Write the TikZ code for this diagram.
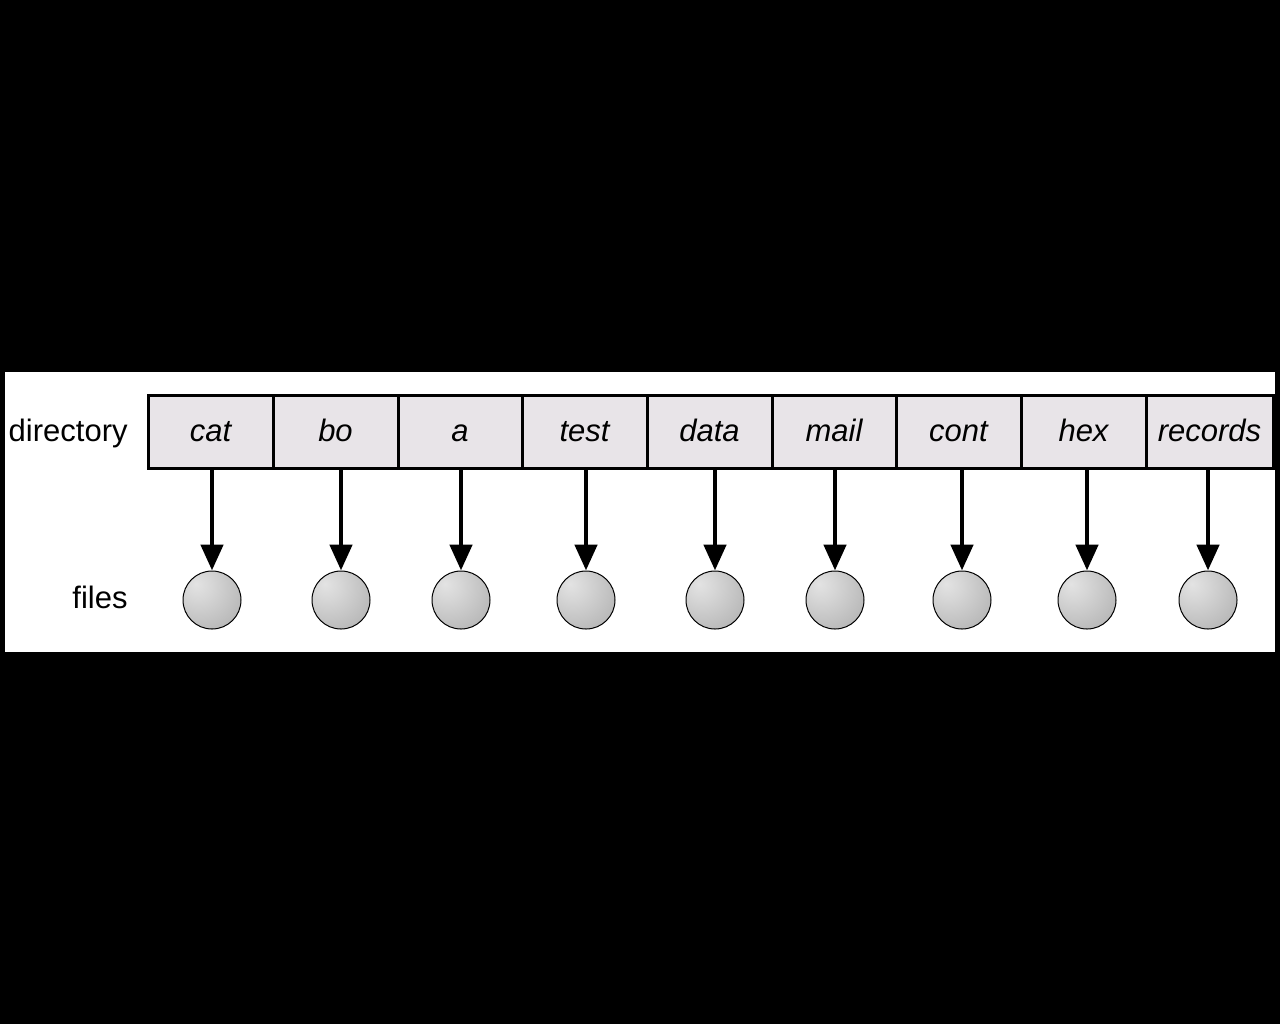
\documentclass[tikz,border=0pt]{standalone}
\usepackage{fontspec}
\setmainfont{Liberation Sans}
\usetikzlibrary{arrows.meta}

\definecolor{cellgray}{RGB}{232,228,232}
\pgfdeclareradialshading{sphere}{\pgfpoint{-14bp}{14bp}}{%
  color(0bp)=(white!78!gray);
  color(12bp)=(white!68!gray);
  color(40bp)=(white!42!gray);
  color(64bp)=(white!22!gray);
  color(100bp)=(white!22!gray)}

\begin{document}
\begin{tikzpicture}[x=0.5pt, y=-0.5pt]
	\tikzstyle{every node}=[inner sep=0pt, font=\fontsize{15.5}{18}\selectfont]
	\tikzstyle{cell}=[draw, line width=1.5pt, fill=cellgray, minimum height=36.5pt, text height=12.5pt, text depth=3pt, font=\fontsize{15.5}{18}\selectfont\itshape]
	\tikzstyle{file}=[circle, draw, line width=0.5pt, minimum size=29pt, shading=sphere]
	\tikzstyle{arr}=[line width=2.4pt, -{Triangle[width=11pt, length=13pt]}]
	% page and white panel
	\fill[black] (0,0) rectangle (1280,1024);
	\fill[white] (5,372) rectangle (1275,652);
	\node[anchor=base east] (dir) at (128, 441) {directory};
	\node[anchor=base east] (files) at (128, 608) {files};
	\foreach \name/\l/\r/\fx in {cat/148/273/212, bo/273/398/341, a/398/522/461,
			test/522/647/586, data/647/772/715, mail/772/896/835, cont/896/1021/962,
			hex/1021/1146/1087, records/1146/1273/1208}
	{
		\node[cell, minimum width={(\r-\l)*0.5pt}] (c\name) at ({(\l+\r)/2}, 431.5) {\name};
		\node[file] (f\name) at (\fx, 600) {};
		\draw[arr] (c\name.south -| f\name) -- (f\name);
	}
\end{tikzpicture}
\end{document}
